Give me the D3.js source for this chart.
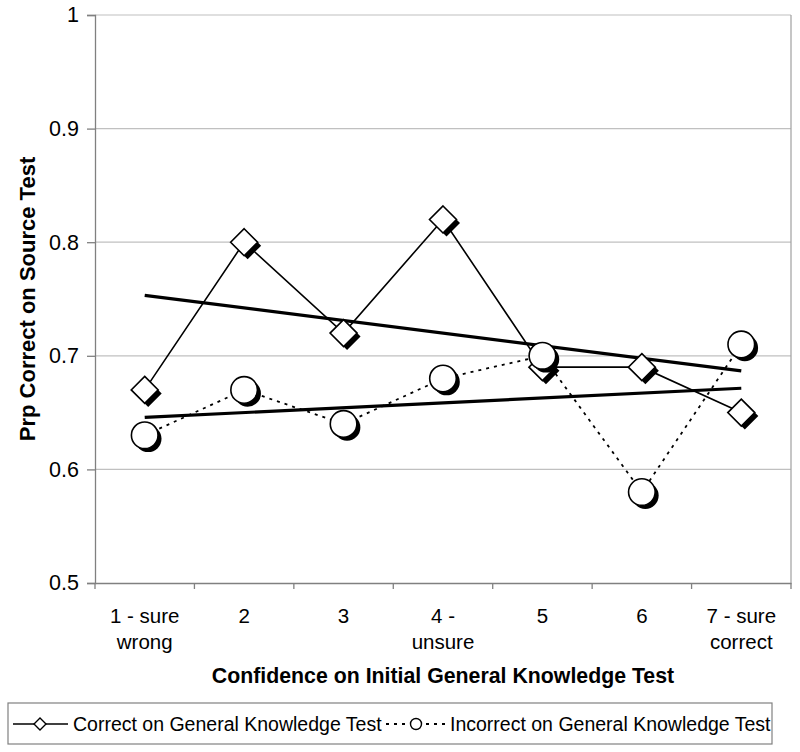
<!DOCTYPE html>
<html><head><meta charset="utf-8">
<script src="https://cdn.jsdelivr.net/npm/d3@7"></script>
<style>body{margin:0;background:#fff}svg{display:block;font-family:"Liberation Sans",Arial,sans-serif}</style>
</head><body>
<script>
const categories = ["1 - sure\nwrong","2","3","4 -\nunsure","5","6","7 - sure\ncorrect"];
const correctValues = [0.67,0.80,0.72,0.82,0.69,0.69,0.65];
const incorrectValues = [0.63,0.67,0.64,0.68,0.70,0.58,0.71];
const yTicks = [0.5,0.6,0.7,0.8,0.9,1];
const seriesNames = ["Correct on General Knowledge Test","Incorrect on General Knowledge Test"];

const W=800,H=752;
const svg=d3.select("body").append("svg").attr("width",W).attr("height",H);
const L=95,R=791,T=15,B=583;
const x=d3.scaleBand().domain(categories).range([L,R]);
const y=d3.scaleLinear().domain([0.5,1]).range([B,T]);
const cx=i=>x(categories[i])+x.bandwidth()/2;

// gridlines
svg.append("g").selectAll("line").data(yTicks.slice(1)).join("line")
  .attr("x1",L).attr("x2",R).attr("y1",d=>y(d)).attr("y2",d=>y(d))
  .attr("stroke","#c0c0c0").attr("stroke-width",1.2);
// right border
svg.append("line").attr("x1",R).attr("x2",R).attr("y1",T).attr("y2",B).attr("stroke","#a0a0a0").attr("stroke-width",1.2);

// y axis
const yAxis=svg.append("g").attr("transform",`translate(${L},0)`)
  .call(d3.axisLeft(y).tickValues(yTicks).tickFormat(d=>d===1?"1":d3.format(".1f")(d)).tickSize(8).tickPadding(8));
yAxis.attr("font-size",null).attr("font-family",null);
yAxis.select(".domain").attr("stroke","#808080").attr("stroke-width",1.3);
yAxis.selectAll(".tick line").attr("stroke","#808080").attr("stroke-width",1.3);
yAxis.selectAll("text").style("font-size","21.5px").attr("fill","#000");

// x axis
const xAxis=svg.append("g").attr("transform",`translate(0,${B})`)
  .call(d3.axisBottom(x).tickSize(0).tickFormat(""));
xAxis.select(".domain").attr("stroke","#808080").attr("stroke-width",1.3);
xAxis.selectAll(".tick").remove();
const bounds=categories.map((c,i)=>x(c)).concat([R]);
svg.append("g").selectAll("line").data(bounds).join("line")
  .attr("x1",d=>d).attr("x2",d=>d).attr("y1",B).attr("y2",B+6)
  .attr("stroke","#808080").attr("stroke-width",1.3);
const xl=svg.append("g").selectAll("text").data(categories).join("text")
  .attr("x",(d,i)=>cx(i)).attr("y",623).attr("text-anchor","middle").style("font-size","20.5px");
xl.each(function(d){
  const lines=d.split("\n");
  d3.select(this).selectAll("tspan").data(lines).join("tspan")
    .attr("x",d3.select(this).attr("x")).attr("dy",(l,j)=>j===0?0:26).text(l=>l);
});

// axis titles
svg.append("text").attr("x",443).attr("y",683).attr("text-anchor","middle")
  .style("font-size","21.3px").attr("font-weight","bold").text("Confidence on Initial General Knowledge Test");
svg.append("text").attr("transform",`translate(35,${(T+B)/2}) rotate(-90)`).attr("text-anchor","middle")
  .style("font-size","22px").attr("font-weight","bold").text("Prp Correct on Source Test");

// trend lines (least squares)
function trend(vals){
  const n=vals.length, xs=vals.map((v,i)=>i+1);
  const mx=d3.mean(xs), my=d3.mean(vals);
  const s=d3.sum(xs,(xv,i)=>(xv-mx)*(vals[i]-my))/d3.sum(xs,xv=>(xv-mx)**2);
  return [my+s*(1-mx), my+s*(n-mx)];
}
[correctValues,incorrectValues].forEach(vals=>{
  const t=trend(vals);
  svg.append("line").attr("x1",cx(0)).attr("x2",cx(vals.length-1))
    .attr("y1",y(t[0])).attr("y2",y(t[1])).attr("stroke","#000").attr("stroke-width",3.2);
});

// series lines
const line=d3.line().x((d,i)=>cx(i)).y(d=>y(d));
svg.append("path").datum(correctValues).attr("d",line).attr("fill","none").attr("stroke","#000").attr("stroke-width",1.6);
svg.append("path").datum(incorrectValues).attr("d",line).attr("fill","none").attr("stroke","#000").attr("stroke-width",1.8).attr("stroke-dasharray","3,5");

// markers with shadows
const dia=r=>`M0,${-r}L${r},0L0,${r}L${-r},0Z`;
const off=3.5;
const gC=svg.append("g");
correctValues.forEach((v,i)=>{
  gC.append("path").attr("d",dia(13.5)).attr("transform",`translate(${cx(i)+off},${y(v)+off})`).attr("fill","#000");
  gC.append("path").attr("d",dia(13.5)).attr("transform",`translate(${cx(i)},${y(v)})`).attr("fill","#fff").attr("stroke","#000").attr("stroke-width",1.6);
});
const gI=svg.append("g");
incorrectValues.forEach((v,i)=>{
  gI.append("circle").attr("cx",cx(i)+off).attr("cy",y(v)+off).attr("r",13.3).attr("fill","#000");
  gI.append("circle").attr("cx",cx(i)).attr("cy",y(v)).attr("r",13.3).attr("fill","#fff").attr("stroke","#000").attr("stroke-width",1.6);
});

// legend
const lg=svg.append("g");
lg.append("rect").attr("x",8).attr("y",703).attr("width",764).attr("height",41).attr("fill","#fff").attr("stroke","#808080").attr("stroke-width",1.2);
lg.append("line").attr("x1",13).attr("x2",68).attr("y1",724).attr("y2",724).attr("stroke","#000").attr("stroke-width",1.6);
lg.append("path").attr("d",dia(6)).attr("transform","translate(40,724)").attr("fill","#fff").attr("stroke","#000").attr("stroke-width",1.4);
lg.append("text").attr("x",73).attr("y",731).style("font-size","19.5px").text(seriesNames[0]);
lg.append("line").attr("x1",386).attr("x2",446).attr("y1",724).attr("y2",724).attr("stroke","#000").attr("stroke-width",1.8).attr("stroke-dasharray","3,5");
lg.append("circle").attr("cx",416).attr("cy",724).attr("r",5.5).attr("fill","#fff").attr("stroke","#000").attr("stroke-width",1.4);
lg.append("text").attr("x",450).attr("y",731).style("font-size","19.5px").text(seriesNames[1]);
</script>
</body></html>
